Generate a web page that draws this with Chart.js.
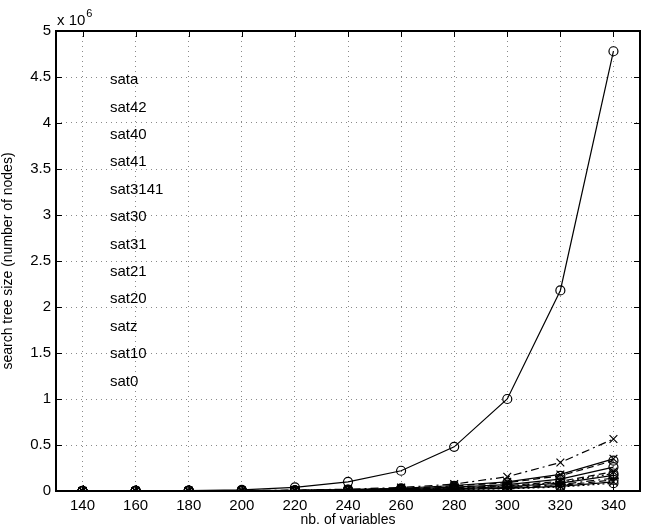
<!DOCTYPE html>
<html>
<head>
<meta charset="utf-8">
<style>
html, body { margin: 0; padding: 0; background: #fff; }
</style>
<script src="https://cdn.jsdelivr.net/npm/chart.js@4"></script>
</head>
<body>
<canvas id="myChart" width="653" height="529"></canvas>
<script>
// number of variables (x axis)
var nbVars = [140, 160, 180, 200, 220, 240, 260, 280, 300, 320, 340];

// search tree sizes (nodes)
var sata    = [300, 1000, 3000, 12000, 40000, 100000, 220000, 480000, 1000000, 2180000, 4780000];
var sat42   = [200, 600, 1500, 4000, 10000, 20000, 38000, 75000, 155000, 310000, 565000];
var sat40   = [150, 500, 1200, 3000, 7000, 15000, 30000, 60000, 100000, 180000, 350000];
var sat41   = [150, 450, 1100, 2800, 6500, 14000, 28000, 55000, 90000, 165000, 330000];
var sat3141 = [120, 400, 1000, 2500, 5500, 12000, 23000, 42000, 70000, 130000, 260000];
var sat30   = [100, 350, 900, 2200, 5000, 10000, 19000, 35000, 58000, 105000, 210000];
var sat31   = [100, 320, 800, 2000, 4500, 9000, 17000, 31000, 52000, 95000, 190000];
var sat21   = [90, 300, 750, 1800, 4000, 8000, 15000, 27000, 46000, 85000, 170000];
var sat20   = [80, 260, 650, 1600, 3500, 7000, 13000, 23000, 38000, 70000, 140000];
var satz    = [70, 230, 580, 1400, 3000, 6000, 11000, 20000, 33000, 60000, 120000];
var sat10   = [60, 200, 500, 1200, 2600, 5200, 9500, 17000, 28000, 50000, 100000];
var sat0    = [50, 180, 450, 1000, 2200, 4500, 8000, 14000, 24000, 43000, 85000];

var seriesNames = ['sata', 'sat42', 'sat40', 'sat41', 'sat3141', 'sat30', 'sat31', 'sat21', 'sat20', 'satz', 'sat10', 'sat0'];
var seriesData = [sata, sat42, sat40, sat41, sat3141, sat30, sat31, sat21, sat20, satz, sat10, sat0];

var xTicks = [140, 160, 180, 200, 220, 240, 260, 280, 300, 320, 340];
var yTicks = [0, 500000, 1000000, 1500000, 2000000, 2500000, 3000000, 3500000, 4000000, 4500000, 5000000];

// matlab-ish line / marker styles
var markers = ['circle', 'crossRot', 'crossRot', 'circle', 'circle', 'crossRot', 'circle', 'circle', 'cross', 'circle', 'crossRot', 'circle'];
var dashes = [[], [8, 4, 2, 4], [], [7, 4], [], [7, 4], [2, 3], [], [8, 4, 2, 4], [7, 4], [], [2, 3]];

var FONT = '"Liberation Sans", Arial, sans-serif';

var datasets = seriesNames.map(function (name, i) {
    return {
        label: name,
        data: nbVars.map(function (x, j) { return { x: x, y: seriesData[i][j] }; }),
        borderColor: '#000',
        borderWidth: 1.2,
        borderDash: dashes[i],
        pointStyle: markers[i],
        pointRadius: markers[i] === 'circle' ? 4.5 : 5.5,
        pointBorderColor: '#000',
        pointBackgroundColor: 'rgba(0,0,0,0)',
        pointBorderWidth: 1.2,
        fill: false,
        tension: 0
    };
});

// frame, inside ticks, exponent and text-only legend
var matlabBox = {
    id: 'matlabBox',
    afterDraw: function (chart) {
        var ctx = chart.ctx, a = chart.chartArea;
        var xs = chart.scales.x, ys = chart.scales.y;
        ctx.save();
        ctx.strokeStyle = '#000';
        ctx.lineWidth = 1;
        ctx.setLineDash([]);
        ctx.beginPath();
        xTicks.forEach(function (v) {
            var px = Math.round(xs.getPixelForValue(v)) + 0.5;
            ctx.moveTo(px, a.bottom); ctx.lineTo(px, a.bottom - 6);
            ctx.moveTo(px, a.top); ctx.lineTo(px, a.top + 6);
        });
        yTicks.forEach(function (v) {
            var py = Math.round(ys.getPixelForValue(v)) + 0.5;
            ctx.moveTo(a.left, py); ctx.lineTo(a.left + 6, py);
            ctx.moveTo(a.right, py); ctx.lineTo(a.right - 6, py);
        });
        ctx.stroke();
        ctx.lineWidth = 2;
        ctx.strokeRect(a.left, a.top, a.right - a.left, a.bottom - a.top);

        ctx.fillStyle = '#000';
        ctx.textBaseline = 'alphabetic';
        ctx.textAlign = 'left';
        ctx.font = '15px ' + FONT;
        ctx.fillText('x 10', a.left + 1, a.top - 6);
        var w = ctx.measureText('x 10').width;
        ctx.font = '11px ' + FONT;
        ctx.fillText('6', a.left + 1 + w + 1, a.top - 14);

        ctx.font = '15px ' + FONT;
        ctx.textBaseline = 'middle';
        seriesNames.forEach(function (name, i) {
            ctx.fillText(name, 110, 80 + i * 27.4);
        });
        ctx.restore();
    }
};

var ctx = document.getElementById('myChart').getContext('2d');
var chart = new Chart(ctx, {
    type: 'line',
    data: { datasets: datasets },
    options: {
        responsive: false,
        animation: false,
        layout: { padding: { top: 31, right: 13, left: 0, bottom: 0 } },
        plugins: {
            legend: { display: false },
            tooltip: { enabled: false }
        },
        scales: {
            x: {
                type: 'linear',
                min: 130,
                max: 350,
                afterBuildTicks: function (s) { s.ticks = xTicks.map(function (v) { return { value: v }; }); },
                afterFit: function (s) { s.height = 38; },
                grid: { color: '#8a8a8a', lineWidth: 1, drawTicks: false },
                border: { display: false, dash: [1, 4] },
                ticks: { color: '#000', font: { family: FONT, size: 15 }, padding: 6, maxRotation: 0, autoSkip: false },
                title: { display: true, text: 'nb. of variables', color: '#000', font: { family: FONT, size: 14 }, padding: { top: 0, bottom: 0 } }
            },
            y: {
                min: 0,
                max: 5000000,
                afterBuildTicks: function (s) { s.ticks = yTicks.map(function (v) { return { value: v }; }); },
                afterFit: function (s) { s.width = 56; },
                grid: { color: '#8a8a8a', lineWidth: 1, drawTicks: false },
                border: { display: false, dash: [1, 4] },
                ticks: {
                    color: '#000', font: { family: FONT, size: 15 }, padding: 5,
                    callback: function (v) { return String(v / 1000000); }
                },
                title: { display: true, text: 'search tree size (number of nodes)', color: '#000', font: { family: FONT, size: 14 }, padding: { top: 0, bottom: 2 } }
            }
        }
    },
    plugins: [matlabBox]
});
</script>
</body>
</html>
